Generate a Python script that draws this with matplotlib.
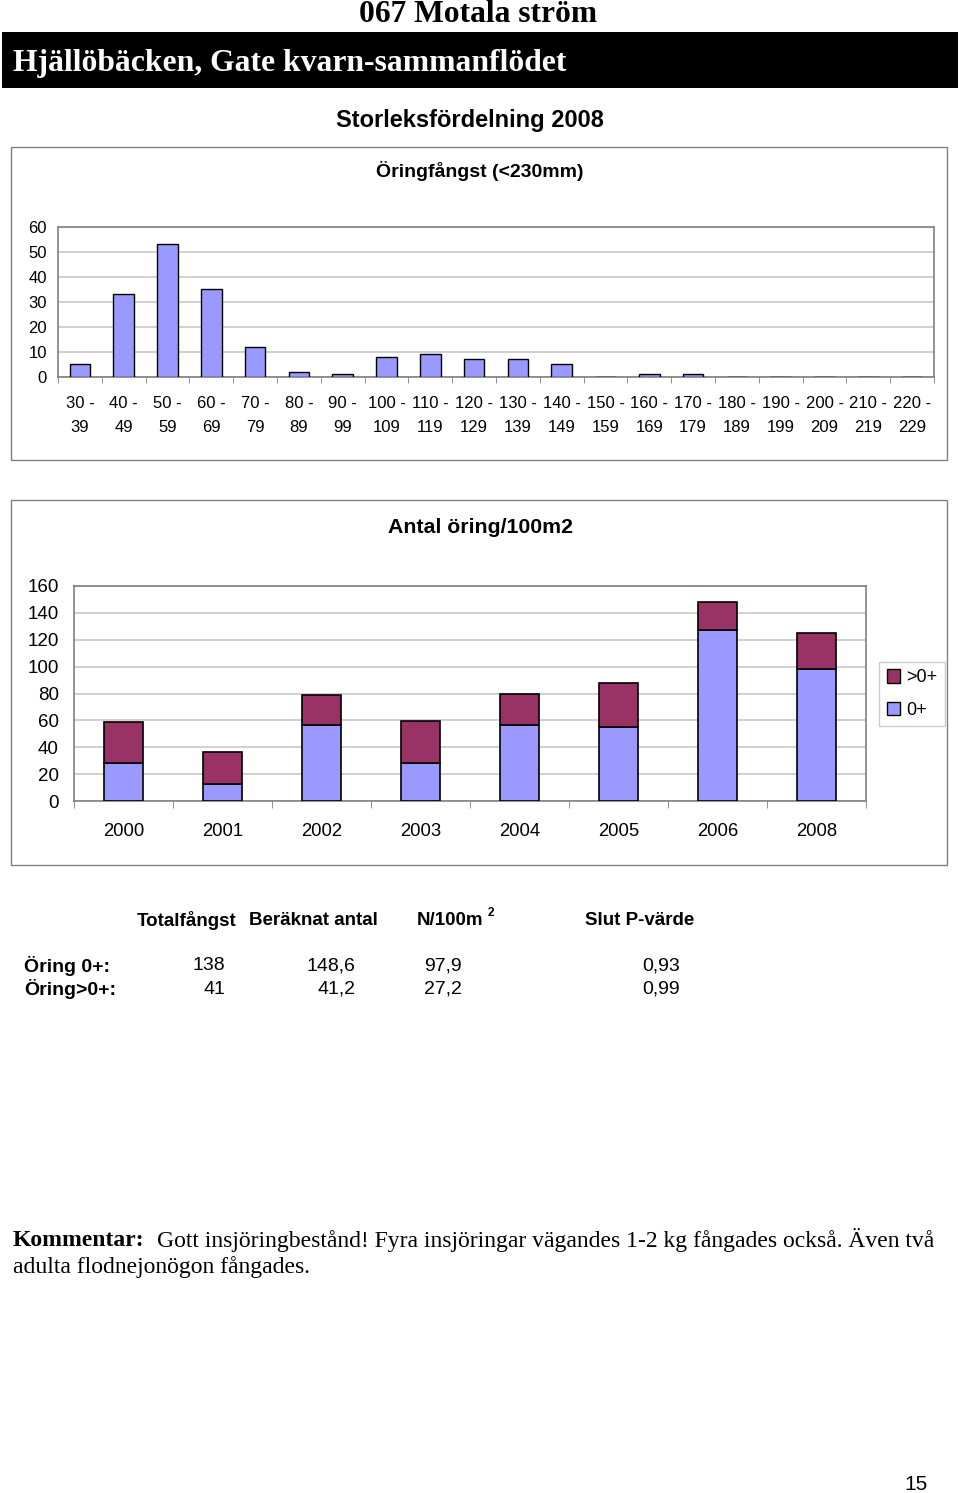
import matplotlib
matplotlib.use("Agg")
import matplotlib.pyplot as plt
from matplotlib.patches import Rectangle, Patch
import numpy as np

# ---- data ----
size_lo = [30, 40, 50, 60, 70, 80, 90, 100, 110, 120, 130, 140, 150, 160, 170,
           180, 190, 200, 210, 220]
size_labels = [f"{a} -\n{a + 9}" for a in size_lo]
catch_counts = [5, 33, 53, 35, 12, 2, 1, 8, 9, 7, 7, 5, 0, 1, 1, 0, 0, 0, 0, 0]

years = ["2000", "2001", "2002", "2003", "2004", "2005", "2006", "2008"]
dens_0plus = [28.2, 12.6, 56.4, 28.2, 56.4, 55.1, 126.9, 97.9]
dens_older = [30.7, 23.7, 22.2, 31.6, 23.5, 32.9, 21.3, 27.2]

table_cols = ["Totalfångst", "Beräknat antal", "N/100m", "Slut P-värde"]
table_rows = ["Öring 0+:", "Öring>0+:"]
table_vals = [["138", "148,6", "97,9", "0,93"],
              ["41", "41,2", "27,2", "0,99"]]

BLUE = "#9999FF"
MAROON = "#993366"
GRID = "#C8C8C8"
FRAME = "#808080"
SANS = ["Liberation Sans", "DejaVu Sans"]
SERIF = ["Liberation Serif", "DejaVu Serif"]

W, H = 960, 1493
fig = plt.figure(figsize=(W / 100, H / 100), dpi=100)


def fx(x):
    return x / W


def fy(y):
    return 1 - y / H


def txt(x, y, s, **kw):
    fig.text(fx(x), fy(y), s, **kw)


# ---- header ----
txt(478, 14, "067 Motala ström", family=SERIF, fontweight="bold", fontsize=22.7,
    ha="center", va="center")
fig.patches.append(Rectangle((fx(2), fy(88)), fx(958) - fx(2), fy(32) - fy(88),
                             transform=fig.transFigure, facecolor="black",
                             edgecolor="none"))
txt(13, 64, "Hjällöbäcken, Gate kvarn-sammanflödet", family=SERIF,
    fontweight="bold", fontsize=22.8, color="white", ha="left", va="center")
txt(470, 121, "Storleksfördelning 2008", family=SANS, fontweight="bold",
    fontsize=17, ha="center", va="center")

# ---- chart frames ----
for (x0, y0, x1, y1) in [(11, 147, 947, 460), (11, 500, 947, 865)]:
    fig.patches.append(Rectangle((fx(x0), fy(y1)), fx(x1) - fx(x0), fy(y0) - fy(y1),
                                 transform=fig.transFigure, facecolor="none",
                                 edgecolor=FRAME, lw=1.0))

# ---- chart 1 ----
txt(480, 171, "Öringfångst (<230mm)", family=SANS, fontweight="bold",
    fontsize=14, ha="center", va="center")
ax1 = fig.add_axes([fx(58), fy(377), fx(934) - fx(58), fy(227) - fy(377)])
x1 = np.arange(len(size_labels))
ax1.bar(x1, catch_counts, width=0.47, color=BLUE, edgecolor="black", lw=1.0,
        zorder=3)
ax1.set_xlim(-0.5, len(size_labels) - 0.5)
ax1.set_ylim(0, 60)
ax1.set_yticks(np.arange(0, 61, 10))
ax1.yaxis.grid(True, color=GRID, lw=1.2, zorder=0)
ax1.set_xticks(x1)
ax1.set_xticklabels(size_labels, family=SANS, fontsize=12, linespacing=1.75)
ax1.set_xticks(np.arange(-0.5, len(size_labels)), minor=True)
ax1.tick_params(axis="x", which="major", length=0, pad=14)
ax1.tick_params(axis="x", which="minor", length=4, color=FRAME, direction="out")
ax1.tick_params(axis="y", length=0, labelsize=12, pad=8)
for lab in ax1.get_yticklabels():
    lab.set_family(SANS)
for s in ax1.spines.values():
    s.set_color(FRAME)
    s.set_linewidth(1.2)

# ---- chart 2 ----
txt(480, 528, "Antal öring/100m2", family=SANS, fontweight="bold",
    fontsize=15.3, ha="center", va="center")
ax2 = fig.add_axes([fx(74), fy(801), fx(866) - fx(74), fy(586) - fy(801)])
x2 = np.arange(len(years))
ax2.bar(x2, dens_0plus, width=0.39, color=BLUE, edgecolor="black", lw=1.2,
        zorder=3, label="0+")
ax2.bar(x2, dens_older, bottom=dens_0plus, width=0.39, color=MAROON,
        edgecolor="black", lw=1.2, zorder=3, label=">0+")
ax2.set_xlim(-0.5, len(years) - 0.5)
ax2.set_ylim(0, 160)
ax2.set_yticks(np.arange(0, 161, 20))
ax2.yaxis.grid(True, color=GRID, lw=1.2, zorder=0)
ax2.set_xticks(x2)
ax2.set_xticklabels(years, family=SANS, fontsize=13.3)
ax2.set_xticks(np.arange(-0.5, len(years)), minor=True)
ax2.tick_params(axis="x", which="major", length=0, pad=16)
ax2.tick_params(axis="x", which="minor", length=5, color=FRAME, direction="out")
ax2.tick_params(axis="y", length=0, labelsize=13.5, pad=11)
for lab in ax2.get_yticklabels():
    lab.set_family(SANS)
for s in ax2.spines.values():
    s.set_color(FRAME)
    s.set_linewidth(1.2)

handles = [Patch(facecolor=MAROON, edgecolor="black", label=">0+"),
           Patch(facecolor=BLUE, edgecolor="black", label="0+")]
leg = fig.legend(handles=handles, loc="center", bbox_to_anchor=(fx(912), fy(694)),
                 prop={"family": SANS, "size": 13}, frameon=True, fancybox=False,
                 edgecolor="#C0C0C0", handlelength=0.75, handleheight=0.75,
                 handletextpad=0.35, labelspacing=0.85, borderpad=0.4,
                 borderaxespad=0)
leg.get_frame().set_linewidth(1.0)

# ---- table ----
col_x = [137, 249, 417, 585]
for cx, c in zip(col_x, table_cols):
    txt(cx, 921, c, family=SANS, fontweight="bold", fontsize=13.5, ha="left",
        va="center")
txt(488, 913, "2", family=SANS, fontweight="bold", fontsize=8.5, ha="left",
    va="center")
row_y = [966, 989]
val_x = [225, 355, 462, 680]
for ry, rlab, vals in zip(row_y, table_rows, table_vals):
    txt(24, ry, rlab, family=SANS, fontweight="bold", fontsize=14, ha="left",
        va="center")
    for vx, v in zip(val_x, vals):
        txt(vx, ry, v, family=SANS, fontsize=14, ha="right", va="center")

# ---- comment ----
txt(13, 1240, "Kommentar:", family=SERIF, fontweight="bold", fontsize=17,
    ha="left", va="center")
txt(157, 1240, "Gott insjöringbestånd! Fyra insjöringar vägandes 1-2 kg fångades också. Även två",
    family=SERIF, fontsize=17, ha="left", va="center")
txt(13, 1267, "adulta flodnejonögon fångades.", family=SERIF, fontsize=17,
    ha="left", va="center")

txt(916, 1485, "15", family=SANS, fontsize=15, ha="center", va="center")

fig.savefig("out.png", dpi=100)
